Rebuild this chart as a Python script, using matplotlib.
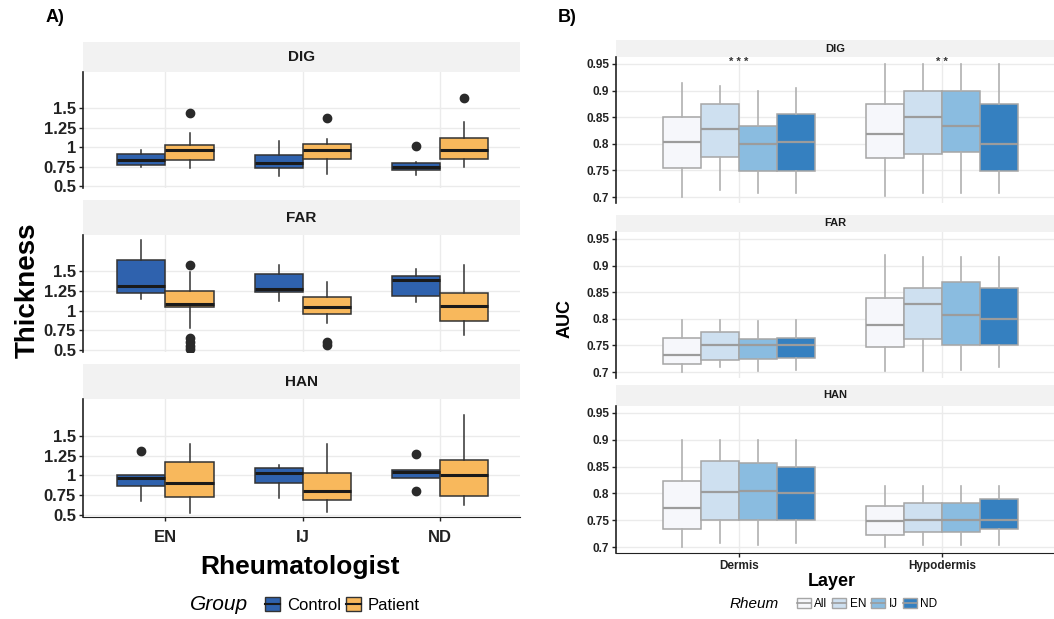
import matplotlib.pyplot as plt
import numpy as np
from matplotlib.patches import Patch
from matplotlib.lines import Line2D

plt.rcParams['font.family'] = ['Liberation Sans', 'DejaVu Sans']

# ---- panel A data: thickness box stats [region][rater][group]
regions = ["DIG", "FAR", "HAN"]
raters = ["EN", "IJ", "ND"]
groups = ["Control", "Patient"]

thk_whislo = [[[0.747, 0.734], [0.623, 0.649], [0.640, 0.743]],
              [[1.155, 0.785], [1.130, 0.845], [1.113, 0.691]],
              [[0.679, 0.526], [0.714, 0.534], [0.970, 0.628]]]
thk_q1 = [[[0.764, 0.836], [0.730, 0.849], [0.704, 0.845]],
          [[1.223, 1.049], [1.240, 0.955], [1.194, 0.874]],
          [[0.863, 0.731], [0.902, 0.692], [0.970, 0.735]]]
thk_med = [[[0.832, 0.960], [0.790, 0.960], [0.747, 0.968]],
           [[1.317, 1.090], [1.283, 1.053], [1.394, 1.062]],
           [[0.970, 0.902], [1.030, 0.808], [1.040, 1.009]]]
thk_q3 = [[[0.917, 1.023], [0.900, 1.036], [0.790, 1.117]],
          [[1.649, 1.257], [1.470, 1.177], [1.445, 1.223]],
          [[1.009, 1.175], [1.094, 1.034], [1.064, 1.188]]]
thk_whishi = [[[0.968, 1.185], [1.080, 1.100], [0.806, 1.320]],
              [[1.896, 1.490], [1.585, 1.364], [1.534, 1.577]],
              [[1.009, 1.393], [1.128, 1.397], [1.064, 1.760]]]
thk_fliers = [[[[], [1.436]], [[], [1.380]], [[1.015], [1.632]]],
              [[[], [1.577, 0.657, 0.606, 0.555, 0.517]], [[], [0.606, 0.564]], [[], []]],
              [[[1.303], []], [[], []], [[1.265, 0.808], []]]]
grp_colors = ["#2F62AE", "#F8B85C"]

# ---- panel B data: AUC box stats [region][layer][rheum]
layers = ["Dermis", "Hypodermis"]
rheums = ["All", "EN", "IJ", "ND"]
auc_whislo = [[[0.701, 0.714, 0.708, 0.708], [0.703, 0.708, 0.708, 0.708]],
              [[0.701, 0.709, 0.703, 0.704], [0.702, 0.703, 0.704, 0.709]],
              [[0.701, 0.708, 0.704, 0.708], [0.701, 0.703, 0.703, 0.703]]]
auc_q1 = [[[0.754, 0.775, 0.749, 0.749], [0.774, 0.781, 0.785, 0.749]],
          [[0.716, 0.723, 0.724, 0.727], [0.748, 0.762, 0.750, 0.750]],
          [[0.734, 0.750, 0.750, 0.750], [0.723, 0.729, 0.729, 0.734]]]
auc_med = [[[0.804, 0.828, 0.799, 0.804], [0.819, 0.850, 0.833, 0.799]],
           [[0.732, 0.750, 0.750, 0.750], [0.788, 0.828, 0.807, 0.800]],
           [[0.772, 0.803, 0.805, 0.800], [0.748, 0.750, 0.750, 0.750]]]
auc_q3 = [[[0.851, 0.874, 0.833, 0.856], [0.874, 0.899, 0.899, 0.874]],
          [[0.765, 0.775, 0.762, 0.765], [0.839, 0.857, 0.870, 0.857]],
          [[0.823, 0.861, 0.857, 0.850], [0.776, 0.783, 0.783, 0.789]]]
auc_whishi = [[[0.914, 0.908, 0.899, 0.904], [0.950, 0.950, 0.950, 0.950]],
              [[0.798, 0.798, 0.796, 0.798], [0.919, 0.916, 0.916, 0.916]],
              [[0.900, 0.900, 0.900, 0.900], [0.813, 0.813, 0.813, 0.813]]]
rheum_colors = ["#F6F7FB", "#CEE0F0", "#8ABCE0", "#3580C0"]
signif = {("DIG", "Dermis"): "* * *", ("DIG", "Hypodermis"): "* *"}

W, H = 1054, 619
fig = plt.figure(figsize=(W / 100, H / 100), dpi=100)


def add_px(x0, y0, x1, y1):
    return fig.add_axes([x0 / W, 1 - y1 / H, (x1 - x0) / W, (y1 - y0) / H])


def strip(x0, y0, x1, y1, label, size):
    s = add_px(x0, y0, x1, y1)
    s.set_facecolor("#F2F2F2")
    s.set_xticks([]); s.set_yticks([])
    for sp in s.spines.values():
        sp.set_visible(False)
    s.text(0.5, 0.5, label, ha="center", va="center", fontsize=size, fontweight="bold", color="#1A1A1A")


def style(ax, bottom):
    ax.set_facecolor("white")
    for k in ["top", "right"]:
        ax.spines[k].set_visible(False)
    ax.spines["left"].set_color("#222222")
    ax.spines["left"].set_linewidth(1.2)
    ax.spines["bottom"].set_visible(bottom)
    ax.spines["bottom"].set_color("#222222")
    ax.grid(True, color="#EBEBEB", lw=1)
    ax.set_axisbelow(True)


# ---------------- panel A ----------------
left_rows = [(42, 72, 188), (200, 235, 352), (364, 399, 517)]
for r, reg in enumerate(regions):
    s0, a0, a1 = left_rows[r]
    strip(83, s0, 520, a0, reg, 11)
    ax = add_px(83, a0, 520, a1)
    style(ax, r == 2)
    for i in range(len(raters)):
        for g in range(len(groups)):
            st = dict(med=thk_med[r][i][g], q1=thk_q1[r][i][g], q3=thk_q3[r][i][g],
                      whislo=thk_whislo[r][i][g], whishi=thk_whishi[r][i][g],
                      fliers=thk_fliers[r][i][g])
            ax.bxp([st], positions=[i + 1 + (g - 0.5) * 0.35], widths=0.35,
                   patch_artist=True, showcaps=False,
                   boxprops=dict(facecolor=grp_colors[g], edgecolor="#333333", lw=1.1),
                   medianprops=dict(color="#1A1A1A", lw=2.2),
                   whiskerprops=dict(color="#333333", lw=1.1),
                   flierprops=dict(marker="o", markerfacecolor="#2A2A2A", markeredgecolor="#2A2A2A", markersize=6))
    ax.set_xlim(0.40, 3.58)
    ax.set_ylim(0.474, 1.965)
    ax.set_yticks([0.5, 0.75, 1, 1.25, 1.5])
    ax.set_yticklabels(["0.5", "0.75", "1", "1.25", "1.5"], fontsize=12, fontweight="bold", color="#222222")
    ax.set_xticks([1, 2, 3])
    ax.tick_params(axis="y", length=3, width=1, color="#222222", pad=2)
    if r == 2:
        ax.set_xticklabels(raters, fontsize=12, fontweight="bold", color="#222222")
        ax.tick_params(axis="x", length=3, width=1, color="#222222", pad=6)
    else:
        ax.set_xticklabels([])
        ax.tick_params(axis="x", length=0)

fig.text(28 / W, 1 - 290 / H, "Thickness", rotation=90, ha="center", va="center", fontsize=20, fontweight="bold")
fig.text(300 / W, 1 - 567 / H, "Rheumatologist", ha="center", va="center", fontsize=19, fontweight="bold")
fig.text(55 / W, 1 - 17 / H, "A)", ha="center", va="center", fontsize=13, fontweight="bold")
fig.text(190 / W, 1 - 605 / H, "Group", ha="left", va="center", fontsize=15, style="italic")
grp_handles = [(Patch(facecolor=c, edgecolor="#333333"), Line2D([], [], color="#1A1A1A", lw=1.5))
               for c in grp_colors]
fig.legend(handles=grp_handles, labels=groups,
           loc="center left", bbox_to_anchor=(250 / W, 1 - 605 / H), ncol=2, frameon=False,
           fontsize=12, handlelength=0.9, handleheight=0.9, handletextpad=0.4, columnspacing=0.3)

# ---------------- panel B ----------------
right_rows = [(40, 57, 203), (215, 232, 378), (385, 406, 553)]
offs = [-0.28125, -0.09375, 0.09375, 0.28125]
for r, reg in enumerate(regions):
    s0, a0, a1 = right_rows[r]
    strip(616, s0, 1054, a0, reg, 8)
    ax = add_px(616, a0, 1054, a1)
    style(ax, r == 2)
    for j in range(len(layers)):
        for k in range(len(rheums)):
            st = dict(med=auc_med[r][j][k], q1=auc_q1[r][j][k], q3=auc_q3[r][j][k],
                      whislo=auc_whislo[r][j][k], whishi=auc_whishi[r][j][k], fliers=[])
            ax.bxp([st], positions=[j + 1 + offs[k]], widths=0.1875,
                   patch_artist=True, showcaps=False,
                   boxprops=dict(facecolor=rheum_colors[k], edgecolor="#A6A6A6", lw=1.1),
                   medianprops=dict(color="#9C9C9C", lw=1.6),
                   whiskerprops=dict(color="#B0B0B0", lw=1.2))
        lab = signif.get((reg, layers[j]))
        if lab:
            ax.text(j + 1, 0.953, lab, ha="center", va="center", fontsize=8, fontweight="bold", color="#333333")
    ax.set_xlim(0.394, 2.55)
    ax.set_ylim(0.689, 0.963)
    ax.set_yticks([0.7, 0.75, 0.8, 0.85, 0.9, 0.95])
    ax.set_yticklabels(["0.7", "0.75", "0.8", "0.85", "0.9", "0.95"], fontsize=8.5, fontweight="bold", color="#222222")
    ax.set_xticks([1, 2])
    ax.tick_params(axis="y", length=3, width=1, color="#222222", pad=2)
    if r == 2:
        ax.set_xticklabels(layers, fontsize=8.5, fontweight="bold", color="#222222")
        ax.tick_params(axis="x", length=3, width=1, color="#222222", pad=2)
    else:
        ax.set_xticklabels([])
        ax.tick_params(axis="x", length=0)

fig.text(565 / W, 1 - 318 / H, "AUC", rotation=90, ha="center", va="center", fontsize=13, fontweight="bold")
fig.text(832 / W, 1 - 582 / H, "Layer", ha="center", va="center", fontsize=13, fontweight="bold")
fig.text(567 / W, 1 - 17 / H, "B)", ha="center", va="center", fontsize=13, fontweight="bold")
fig.text(730 / W, 1 - 604 / H, "Rheum", ha="left", va="center", fontsize=11, style="italic")
rh_handles = [(Patch(facecolor=c, edgecolor="#A6A6A6"), Line2D([], [], color="#9C9C9C", lw=1.2))
              for c in rheum_colors]
fig.legend(handles=rh_handles, labels=rheums,
           loc="center left", bbox_to_anchor=(786 / W, 1 - 604 / H), ncol=4, frameon=False,
           fontsize=8.5, handlelength=1.2, handleheight=0.9, handletextpad=0.3, columnspacing=0.4)

fig.savefig("out.png", dpi=100, facecolor="white")
